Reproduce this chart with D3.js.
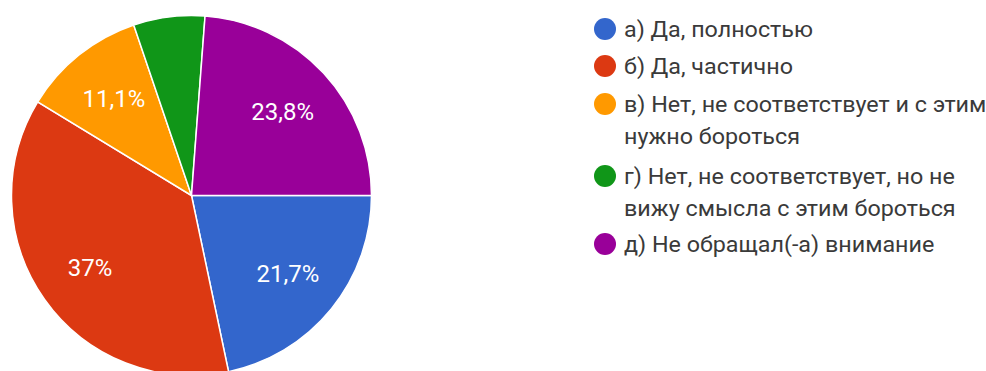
<!DOCTYPE html>
<html><head><meta charset="utf-8">
<script src="https://cdn.jsdelivr.net/npm/d3@7"></script>
<style>body{margin:0;background:#fff;}svg{display:block;}</style>
</head><body>
<svg id="c" width="986" height="371"></svg>
<script>
const categories = ["а) Да, полностью", "б) Да, частично", "в) Нет, не соответствует и с этим нужно бороться", "г) Нет, не соответствует, но не вижу смысла с этим бороться", "д) Не обращал(-а) внимание"];
const legendLines = [["а) Да, полностью"], ["б) Да, частично"], ["в) Нет, не соответствует и с этим", "нужно бороться"], ["г) Нет, не соответствует, но не", "вижу смысла с этим бороться"], ["д) Не обращал(-а) внимание"]];
const values = [21.7, 37, 11.1, 6.4, 23.8];
const labels = ["21,7%", "37%", "11,1%", "", "23,8%"];
const colors = ["#3366cc", "#dc3912", "#ff9900", "#109618", "#990099"];

const svg = d3.select("#c");
const cx = 191.5, cy = 195.5, r = 180;
const pie = d3.pie().sort(null).startAngle(Math.PI/2).endAngle(Math.PI/2 + 2*Math.PI);
const arcs = pie(values);
const arc = d3.arc().innerRadius(0).outerRadius(r);
const labelArc = d3.arc().innerRadius(r*0.69).outerRadius(r*0.69);
const g = svg.append("g").attr("transform", `translate(${cx},${cy})`);
g.selectAll("path").data(arcs).join("path")
  .attr("d", arc).attr("fill", (d,i)=>colors[i])
  .attr("stroke", "#fff").attr("stroke-width", 1.5);
g.selectAll("text").data(arcs).join("text")
  .attr("transform", d => `translate(${labelArc.centroid(d)})`)
  .attr("text-anchor", "middle").attr("dy", "0.36em")
  .attr("fill", "#fff").attr("font-family", "Roboto, Arial, sans-serif").attr("font-size", 24)
  .text((d,i)=>labels[i]);

const legendY = [29, 66, 104, 176, 244];
const lg = svg.append("g");
legendLines.forEach((lines, i) => {
  lg.append("circle").attr("cx", 605).attr("cy", legendY[i]).attr("r", 11).attr("fill", colors[i]);
  lines.forEach((t, j) => {
    lg.append("text")
      .attr("transform", `translate(624,${legendY[i] + j*32}) scale(1.06,1)`)
      .attr("dy", "0.36em")
      .attr("fill", "#3a3a3a").attr("font-family", "Roboto, Arial, sans-serif").attr("font-size", 22)
      .text(t);
  });
});
</script>
</body></html>
